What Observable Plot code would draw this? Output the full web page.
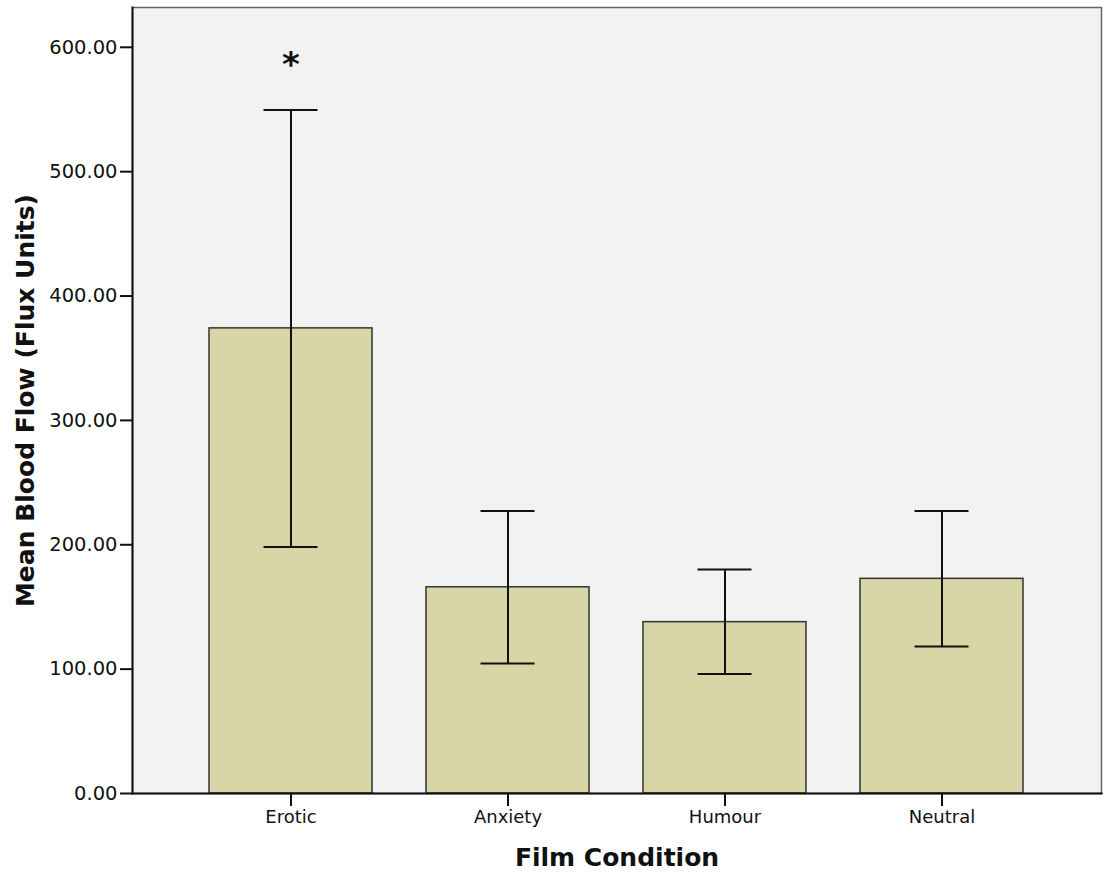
<!DOCTYPE html>
<html>
<head>
<meta charset="utf-8">
<script src="https://cdn.jsdelivr.net/npm/d3@7"></script>
<script src="https://cdn.jsdelivr.net/npm/@observablehq/plot@0.6"></script>
<style>
  html, body { margin: 0; padding: 0; background: #ffffff; }
  #chart svg { display: block; }
</style>
</head>
<body>
<div id="chart"></div>
<script>
// Mean blood flow by film condition, with error bars
const conditions = ["Erotic", "Anxiety", "Humour", "Neutral"];
const means = [374, 165.8, 137.8, 172.6];
const lowers = [198.2, 104.5, 96.1, 118.2];
const uppers = [549.6, 227.2, 180.1, 227.2];
const significance = ["*", "", "", ""];
const yTicks = [0, 100, 200, 300, 400, 500, 600];

const rows = conditions.map((c, i) => ({
  condition: c,
  mean: means[i],
  lower: lowers[i],
  upper: uppers[i],
  sig: significance[i]
}));

const font = "DejaVu Sans, Verdana, sans-serif";

const chart = Plot.plot({
  width: 1108,
  height: 876,
  marginLeft: 132,
  marginRight: 7,
  marginTop: 7,
  marginBottom: 83,
  style: { fontFamily: font, background: "#ffffff", color: "#111" },
  x: { domain: conditions, paddingInner: 0.247, paddingOuter: 0.346, label: null },
  y: { domain: [0, 632], label: null },
  marks: [
    Plot.frame({ fill: "#f2f2f2", stroke: "#666", strokeWidth: 1.5 }),
    Plot.barY(rows, {
      x: "condition", y: "mean",
      fill: "#d8d5a7", stroke: "#333", strokeWidth: 1.5
    }),
    Plot.ruleX(rows, {
      x: "condition", y1: "lower", y2: "upper",
      stroke: "#111", strokeWidth: 2
    }),
    Plot.tickY(rows, {
      x: "condition", y: "upper",
      insetLeft: 54.5, insetRight: 54.5, stroke: "#111", strokeWidth: 2
    }),
    Plot.tickY(rows, {
      x: "condition", y: "lower",
      insetLeft: 54.5, insetRight: 54.5, stroke: "#111", strokeWidth: 2
    }),
    Plot.text(rows.filter(d => d.sig), {
      x: "condition", y: "upper", text: "sig",
      dy: -45, fontSize: 34, fontWeight: "bold", fill: "#111"
    }),
    Plot.frame({ anchor: "left", stroke: "#111", strokeWidth: 2 }),
    Plot.frame({ anchor: "bottom", stroke: "#111", strokeWidth: 2 }),
    Plot.axisY({
      ticks: yTicks,
      tickFormat: d => d.toFixed(2),
      tickSize: 12, tickPadding: 3,
      fontSize: 19.5, strokeWidth: 2,
      label: null
    }),
    Plot.axisX({
      tickSize: 13, tickPadding: 4,
      fontSize: 18, strokeWidth: 2,
      label: null
    }),
    Plot.text(["Mean Blood Flow (Flux Units)"], {
      frameAnchor: "left", rotate: -90, dx: -107,
      fontSize: 25, fontWeight: "bold", fill: "#111", textAnchor: "middle"
    }),
    Plot.text(["Film Condition"], {
      frameAnchor: "bottom", dy: 72,
      fontSize: 25, fontWeight: "bold", fill: "#111", textAnchor: "middle"
    })
  ]
});

document.getElementById("chart").appendChild(chart);
</script>
</body>
</html>
